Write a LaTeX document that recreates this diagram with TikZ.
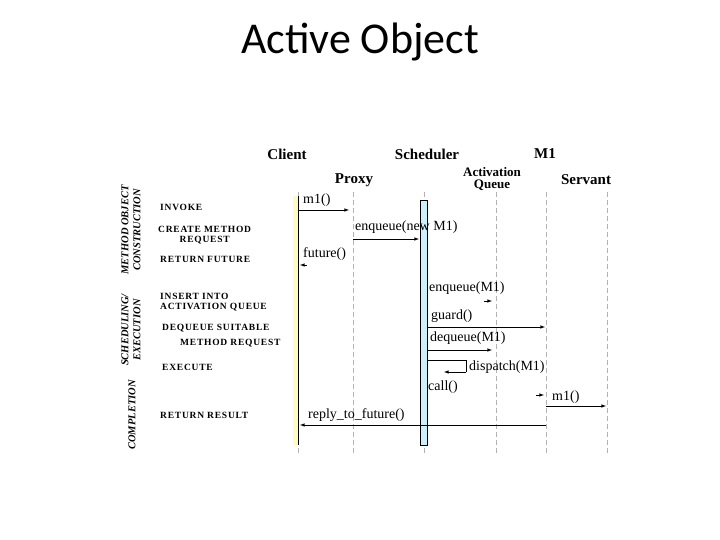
\documentclass[tikz,border=0pt]{standalone}
\usepackage{fontspec}
\setmainfont{Liberation Serif}
\newfontfamily\titlefont{Carlito}
\newfontfamily\phasefont[LetterSpace=8]{Liberation Serif}
\begin{document}
\begin{tikzpicture}[x=1pt,y=-1pt,
  life/.style={dashed,dash pattern=on 5pt off 3pt,line width=0.8pt},
  msg/.style={-latex,line width=0.6pt},
  hd/.style={font=\bfseries\fontsize{15}{16}\selectfont},
  lbl/.style={font=\fontsize{14}{15}\selectfont,inner sep=1pt},
  phase/.style={font=\phasefont\bfseries\fontsize{9.5}{9.5}\selectfont,align=left,anchor=west,inner sep=0},
  side/.style={font=\bfseries\itshape\fontsize{10.5}{12}\selectfont,rotate=90,align=center}]
\useasboundingbox (0,0) rectangle (720,540);
\node[font=\titlefont\fontsize{44}{48}\selectfont] (title) at (360,42) {Active Object};
% headers
\node[hd] (hc) at (287,154) {Client};
\node[hd] (hs) at (427,154) {Scheduler};
\node[hd] (hm) at (545,154) {M1};
\node[hd] (hp) at (354,180) {Proxy};
\node[hd,align=center,font=\bfseries\fontsize{13}{11.5}\selectfont,inner sep=0] (hq) at (492,179) {Activation\\Queue};
\node[hd] (hv) at (586,180) {Servant};
% lifelines
\coordinate (c0) at (298,192); \coordinate (c1) at (298,453);
\coordinate (p0) at (353,192); \coordinate (p1) at (353,453);
\coordinate (s0) at (424,192); \coordinate (s1) at (424,453);
\coordinate (q0) at (496,192); \coordinate (q1) at (496,453);
\coordinate (m0) at (546,192); \coordinate (m1) at (546,453);
\coordinate (v0) at (607,192); \coordinate (v1) at (607,453);
\foreach \a/\b in {c0/c1,p0/p1,s0/s1,q0/q1,m0/m1,v0/v1} \draw[life,gray!60] (\a)--(\b);
\fill[yellow!25] (293,196) rectangle (298,445);
\draw[line width=0.8pt] (298,196)--(298,445);
\draw[fill=cyan!20,line width=0.6pt] (420,200) rectangle (427,445);
% messages
\draw[msg] (298,210) -- (349,210);
\node[lbl,anchor=west] (m1l) at (302,200) {m1()};
\draw[msg] (353,239) -- (419,239);
\node[lbl,anchor=west] (enl) at (354,227) {enqueue(new M1)};
\node[lbl,anchor=west] (fut) at (302,254) {future()};
\draw[msg] (307,265) -- (300,265);
\node[lbl,anchor=west] (enq) at (428,288) {enqueue(M1)};
\draw[msg] (484,301) -- (492,301);
\draw[msg] (427,327) -- (545,327);
\node[lbl,anchor=west] (gd) at (430,316) {guard()};
\draw[msg] (427,350) -- (492,350);
\node[lbl,anchor=west] (dq) at (429,338) {dequeue(M1)};
\draw[line width=0.6pt] (427,360) -- (466,360) -- (466,372);
\draw[msg] (466,372) -- (444,372);
\node[lbl,anchor=west] (disp) at (468,367) {dispatch(M1)};
\node[lbl,anchor=west] (call) at (427,387) {call()};
\draw[msg] (536,395) -- (544,395);
\draw[msg] (546,406) -- (606,406);
\node[lbl,anchor=west] (m1b) at (551,397) {m1()};
\draw[msg] (546,425) -- (300,425);
\node[lbl,anchor=west] (rep) at (307,415) {reply\_to\_future()};
% phases
\node[phase] (i1) at (160,207) {INVOKE};
\node[phase,align=center] (i2) at (158,235) {CREATE METHOD\\REQUEST};
\node[phase] (i3) at (160,259) {RETURN FUTURE};
\node[phase] (i4) at (160,302) {INSERT INTO\\ACTIVATION QUEUE};
\node[phase] (i5) at (162,328) {DEQUEUE SUITABLE};
\node[phase] (i6) at (180,343) {METHOD REQUEST};
\node[phase] (i7) at (162,367) {EXECUTE};
\node[phase] (i8) at (160,415) {RETURN RESULT};
\node[side] (s1) at (131,230) {METHOD OBJECT\\CONSTRUCTION};
\node[side] (s2) at (131,330) {SCHEDULING/\\EXECUTION};
\node[side] (s3) at (132,415) {COMPLETION};
\end{tikzpicture}
\end{document}
